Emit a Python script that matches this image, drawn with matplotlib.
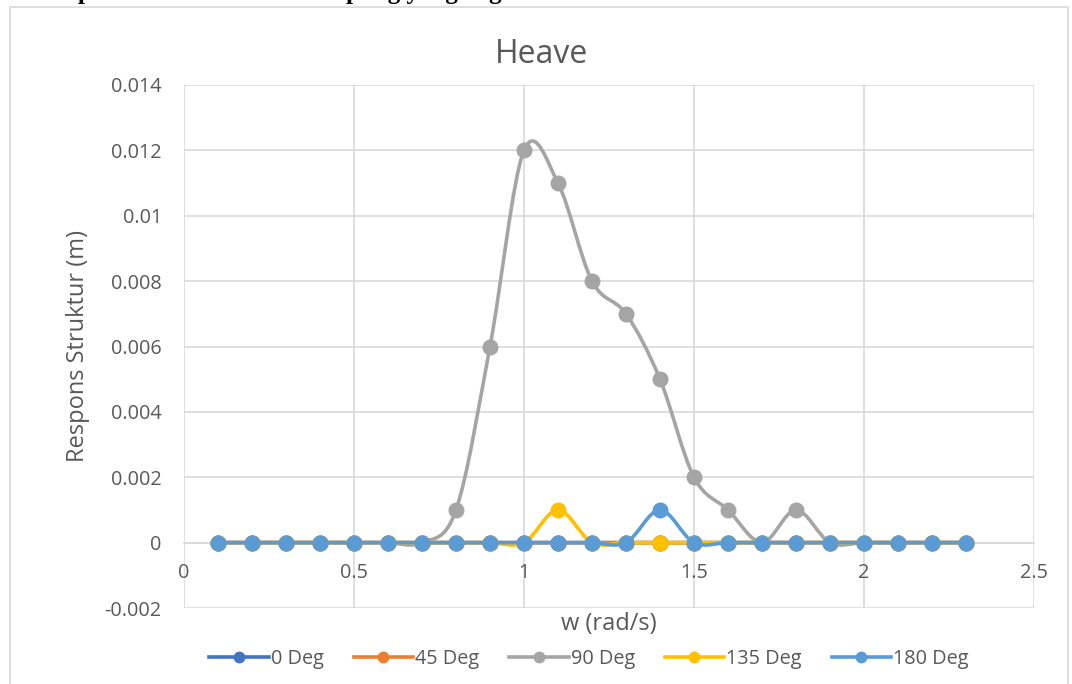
import numpy as np
import matplotlib
matplotlib.use("Agg")
import matplotlib.pyplot as plt
from matplotlib.path import Path
from matplotlib.patches import PathPatch, Rectangle
from matplotlib.lines import Line2D

# Wave frequency (rad/s) and heave response (m) for each heading
w = [0.1, 0.2, 0.3, 0.4, 0.5, 0.6, 0.7, 0.8, 0.9, 1.0, 1.1, 1.2,
     1.3, 1.4, 1.5, 1.6, 1.7, 1.8, 1.9, 2.0, 2.1, 2.2, 2.3]
deg_0 = [0] * 23
deg_45 = [0] * 23
deg_90 = [0, 0, 0, 0, 0, 0, 0, 0.001, 0.006, 0.012, 0.011, 0.008,
          0.007, 0.005, 0.002, 0.001, 0, 0.001, 0, 0, 0, 0, 0]
deg_135 = [0, 0, 0, 0, 0, 0, 0, 0, 0, 0, 0.001, 0,
           0, 0, 0, 0, 0, 0, 0, 0, 0, 0, 0]
deg_180 = [0, 0, 0, 0, 0, 0, 0, 0, 0, 0, 0, 0,
           0, 0.001, 0, 0, 0, 0, 0, 0, 0, 0, 0]

series_names = ["0 Deg", "45 Deg", "90 Deg", "135 Deg", "180 Deg"]
series_values = [deg_0, deg_45, deg_90, deg_135, deg_180]
series_colors = ["#4472C4", "#ED7D31", "#A5A5A5", "#FFC000", "#5B9BD5"]

x_ticks = [0, 0.5, 1, 1.5, 2, 2.5]
x_tick_labels = ["0", "0.5", "1", "1.5", "2", "2.5"]
y_ticks = [-0.002, 0, 0.002, 0.004, 0.006, 0.008, 0.01, 0.012, 0.014]
y_tick_labels = ["-0.002", "0", "0.002", "0.004", "0.006", "0.008",
                 "0.01", "0.012", "0.014"]

TEXT = "#595959"
GRID = "#D9D9D9"
FONT = "Open Sans"

W_PX, H_PX = 1072, 684


def smooth_path(xs, ys):
    """Catmull-Rom style cubic Bezier through every point (spreadsheet smoothing)."""
    p = np.column_stack([xs, ys]).astype(float)
    n = len(p)
    verts = [p[0]]
    codes = [Path.MOVETO]
    for i in range(n - 1):
        p0 = p[i - 1] if i > 0 else p[i]
        p1 = p[i]
        p2 = p[i + 1]
        p3 = p[i + 2] if i + 2 < n else p[i + 1]
        c1 = p1 + (p2 - p0) / 6.0
        c2 = p2 - (p3 - p1) / 6.0
        verts += [c1, c2, p2]
        codes += [Path.CURVE4] * 3
    return Path(verts, codes)


fig = plt.figure(figsize=(W_PX / 100, H_PX / 100), dpi=100)
ax = fig.add_axes([184 / W_PX, 1 - 608 / H_PX, 850 / W_PX, 523 / H_PX])

# outer chart frame
fig.patches.append(Rectangle((10 / W_PX, -0.05), 1058 / W_PX, 1 - 7 / H_PX + 0.05,
                             transform=fig.transFigure, fill=False,
                             edgecolor=GRID, linewidth=1.2, zorder=0))

# heading line of the surrounding document, cut by the page edge
fig.text(14 / W_PX, 1 + 1 / H_PX, "3. Respon Heave Struktur Terapung yang Digunakan",
         ha="left", va="baseline", fontsize=18, fontweight="bold",
         family="Liberation Serif", color="black")

ax.set_xlim(0, 2.5)
ax.set_ylim(-0.002, 0.014)
ax.set_xticks(x_ticks)
ax.set_xticklabels(x_tick_labels)
ax.set_yticks(y_ticks)
ax.set_yticklabels(y_tick_labels)
ax.grid(True, color=GRID, linewidth=1.2, zorder=0)
ax.set_axisbelow(True)
for side in ["top", "right", "left"]:
    ax.spines[side].set_visible(False)
ax.spines["bottom"].set_position(("data", 0))
ax.spines["bottom"].set_color(GRID)
ax.spines["bottom"].set_linewidth(1.2)
ax.tick_params(length=0, labelsize=14.3, labelcolor=TEXT)
for lab in ax.get_xticklabels() + ax.get_yticklabels():
    lab.set_family(FONT)
ax.tick_params(axis="x", pad=15)
ax.tick_params(axis="y", pad=16)

for k, (vals, col) in enumerate(zip(series_values, series_colors)):
    patch = PathPatch(smooth_path(w, vals), fill=False, edgecolor=col,
                      linewidth=2.6, capstyle="round", joinstyle="round",
                      zorder=3 + 2 * k)
    ax.add_patch(patch)
    ax.plot(w, vals, linestyle="none", marker="o", markersize=10.5,
            color=col, zorder=4 + 2 * k, clip_on=False)

# chart title, centred on the whole chart frame
fig.text(541 / W_PX, 1 - 63 / H_PX, "Heave", ha="center", va="baseline",
         fontsize=23, color=TEXT, family=FONT)

ax.set_xlabel("w (rad/s)", fontsize=17, color=TEXT, family=FONT)
ax.xaxis.set_label_coords(0.5, -(624 - 608) / 523)
ax.xaxis.label.set_va("center")
ax.set_ylabel("Respons Struktur (m)", fontsize=17, color=TEXT, family=FONT)
ax.yaxis.set_label_coords(-(184 - 78) / 850, 0.5)
ax.yaxis.label.set_va("center")

handles = [Line2D([0], [0], color=c, linewidth=2.6, marker="o", markersize=7.5)
           for c in series_colors]
fig.legend(handles, series_names, loc="center",
           bbox_to_anchor=(589 / W_PX, 1 - 659 / H_PX),
           ncol=5, frameon=False, handlelength=3.0, handletextpad=0.1,
           columnspacing=1.5, prop={"family": FONT, "size": 14.3},
           labelcolor=TEXT)

fig.savefig("out.png", dpi=100)
